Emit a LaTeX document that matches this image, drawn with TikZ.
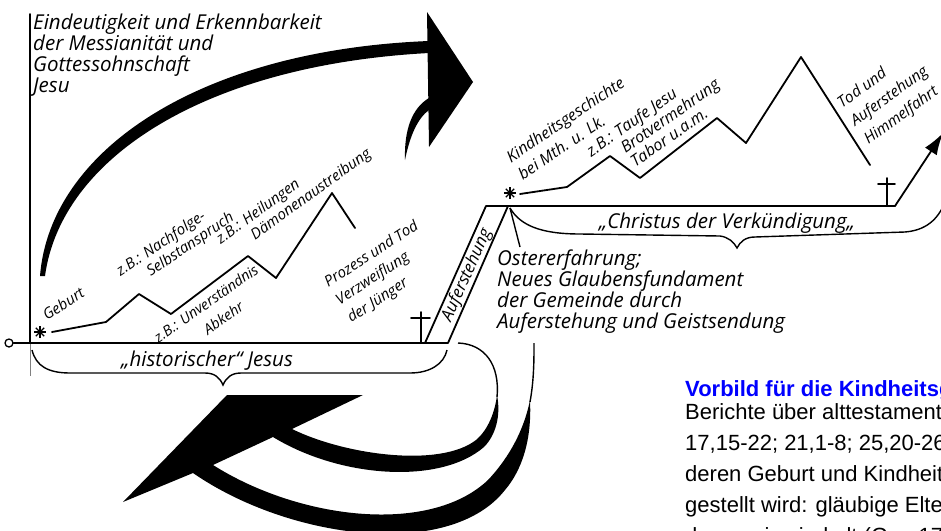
\documentclass[tikz,border=0pt]{standalone}
\usepackage{fontspec}
\setmainfont{Open Sans}
\newfontfamily\arialfont{Liberation Sans}
\usetikzlibrary{arrows.meta}
\definecolor{noteblue}{RGB}{0,0,255}
\tikzset{
	hand/.style={font=\itshape\fontsize{20.5}{21}\selectfont, inner sep=0pt, align=left},
	tilted/.style={font=\itshape\fontsize{15}{20}\selectfont, inner sep=0pt, align=left, anchor=north west, rotate=#1},
	curve/.style={line width=1.8pt, line join=round, line cap=round},
	brace/.style={line width=1.4pt},
	burst/.pic={\foreach \w in {0,45,90,135} \draw[line width=1.3pt] (\w:6) -- (\w+180:6);}
}
\begin{document}
\begin{tikzpicture}[x=1pt,y=-1pt]
		\useasboundingbox (0,0) rectangle (941,530);
		% axis and zero point
		\coordinate (o) at (30,343);
		\coordinate (top) at (30,14);
		\coordinate (foot) at (30,376);
		\node[circle,draw,line width=1.3pt,minimum size=8pt,inner sep=0pt] (zero) at (9,343) {};
		\draw[curve] (top) -- (o);
		\draw[curve] (zero) -- (o);
		\draw[gray,line width=0.6pt] (o) -- (foot);
		% ramp of the resurrection
		\coordinate (a1) at (425,343);
		\coordinate (a2) at (448,343);
		\coordinate (a3) at (486,206);
		\coordinate (a4) at (508,206);
		\coordinate (e) at (895,206);
		\coordinate (up) at (943,133);
		\draw[curve] (o) -- (a2) -- (a4);
		\draw[curve] (a1) -- (a3) -- (e);
		\draw[curve,-{Latex[length=22pt,width=14pt]}] (e) -- (up);
		% crosses
		\draw[curve] (421,312) -- (421,343) (411,318) -- (430,318);
		\draw[curve] (887,178) -- (887,206) (878,184) -- (895,184);
		% births
		\pic at (40,332) {burst};
		\pic at (510,193) {burst};
		% historical line
		\coordinate (h1) at (52,332);
		\coordinate (h2) at (106,322);
		\coordinate (h3) at (139,294);
		\coordinate (h4) at (171,314);
		\coordinate (h5) at (248,256);
		\coordinate (h6) at (276,278);
		\coordinate (h7) at (332,193);
		\coordinate (h8) at (355,228);
		\draw[curve] (h1) -- (h2) -- (h3) -- (h4) -- (h5) -- (h6) -- (h7) -- (h8);
		% proclaimed line
		\coordinate (c1) at (520,194);
		\coordinate (c2) at (567,187);
		\coordinate (c3) at (610,156);
		\coordinate (c4) at (640,178);
		\coordinate (c5) at (717,118);
		\coordinate (c6) at (746,143);
		\coordinate (c7) at (801,57);
		\coordinate (c8) at (870,165);
		\draw[curve] (c1) -- (c2) -- (c3) -- (c4) -- (c5) -- (c6) -- (c7) -- (c8);
		% braces
		\draw[brace] (32,350) .. controls (36,366) and (48,373) .. (70,373) -- (205,373)
			.. controls (215,373) and (220,378) .. (223,385) .. controls (226,378) and (231,373) .. (241,373)
			-- (410,373) .. controls (430,373) and (444,364) .. (447,350);
		\coordinate (os) at (510,208);
		\coordinate (ot) at (520,247);
		\draw[brace] (os) .. controls (520,225) and (540,234) .. (580,234) -- (720,236)
			.. controls (728,237) and (734,242) .. (737,248) .. controls (740,242) and (745,237) .. (755,237)
			-- (905,232) .. controls (930,230) and (940,215) .. (946,200);
		\draw[brace] (os) -- (ot);
		% upper arrow
		\fill (40,276) .. controls (50,150) and (200,50) .. (429,41) -- (429,53)
			.. controls (205,65) and (61,158) .. (45,276) -- cycle;
		\fill (427,12) -- (473,82) -- (429,147) -- cycle;
		\fill (429,98) .. controls (412,108) and (404,130) .. (405,160)
			.. controls (410,135) and (418,118) .. (429,110) -- cycle;
		% lower arrow
		\fill (227,395) -- (363,395) -- (292,429)
			.. controls (345,455) and (440,468) .. (476,440)
			.. controls (488,430) and (495,412) .. (497,395)
			.. controls (501,415) and (496,435) .. (484,447)
			.. controls (440,485) and (340,478) .. (273,437)
			-- (213,465)
			.. controls (300,520) and (430,535) .. (488,480)
			.. controls (505,462) and (523,435) .. (530,400)
			.. controls (532,440) and (522,470) .. (505,490)
			.. controls (450,560) and (290,540) .. (193,473)
			-- (123,502) -- cycle;
		\draw[line width=1.4pt] (497,397) .. controls (500,365) and (485,344) .. (458,343);
		\draw[line width=1.4pt] (530,402) .. controls (534,380) and (534,360) .. (534,343);
		% texts
		\node[hand, anchor=north west] (claim) at (33,14) {Eindeutigkeit und Erkennbarkeit\\der Messianität und\\Gottessohnschaft\\Jesu};
		\node[hand, anchor=north west] (easter) at (497,250) {Ostererfahrung;\\Neues Glaubensfundament\\der Gemeinde durch\\Auferstehung und Geistsendung};
		\node[hand, anchor=base] (hist) at (207,366) {„historischer“ Jesus};
		\node[hand, anchor=base] (kerygma) at (727,228) {„Christus der Verkündigung„};
		\node[tilted=66, anchor=center, font=\itshape\fontsize{17}{21}\selectfont] (rising) at (467,275) {Auferstehung};
		\node[tilted=33, anchor=base west] (birth) at (47,321) {Geburt};
		\node[tilted=34, font=\itshape\fontsize{15}{17}\selectfont] (follow) at (114,267) {z.B.: Nachfolge-\\\hspace*{25pt}Selbstanspruch};
		\node[tilted=36, font=\itshape\fontsize{15}{17}\selectfont] (heal) at (214,235) {z.B.: Heilungen\\\hspace*{30pt}Dämonenaustreibung};
		\node[tilted=35, font=\itshape\fontsize{14.5}{22}\selectfont] (reject) at (152,334) {z.B.: Unverständnis\\\hspace*{45pt}Abkehr};
		\node[tilted=33, font=\itshape\fontsize{15}{21}\selectfont] (trial) at (322,278) {Prozess und Tod\\Verzweiflung\\der Jünger};
		\node[tilted=34, font=\itshape\fontsize{16}{21}\selectfont] (infancy) at (504,153) {Kindheitsgeschichte\\bei Mth. u. Lk.};
		\node[tilted=35, font=\itshape\fontsize{16}{17}\selectfont] (baptism) at (584,147) {z.B.: Taufe Jesu\\\hspace*{30pt}Brotvermehrung\\\hspace*{30pt}Tabor u.a.m.};
		\node[tilted=36, font=\itshape\fontsize{15.5}{22.5}\selectfont] (death) at (835,99) {Tod und\\Auferstehung\\Himmelfahrt};
		\node[anchor=north west, align=left, inner sep=0pt, font=\arialfont\fontsize{22}{31}\selectfont] (note) at (685,380)
			{\textcolor{noteblue}{\bfseries Vorbild für die Kindheitsg}\\[-8pt]Berichte über alttestament\\17,15-22; 21,1-8; 25,20-26\\deren Geburt und Kindheit\\gestellt wird: gläubige Elter\\daran, sie sind alt (Gen 17};
\end{tikzpicture}
\end{document}
